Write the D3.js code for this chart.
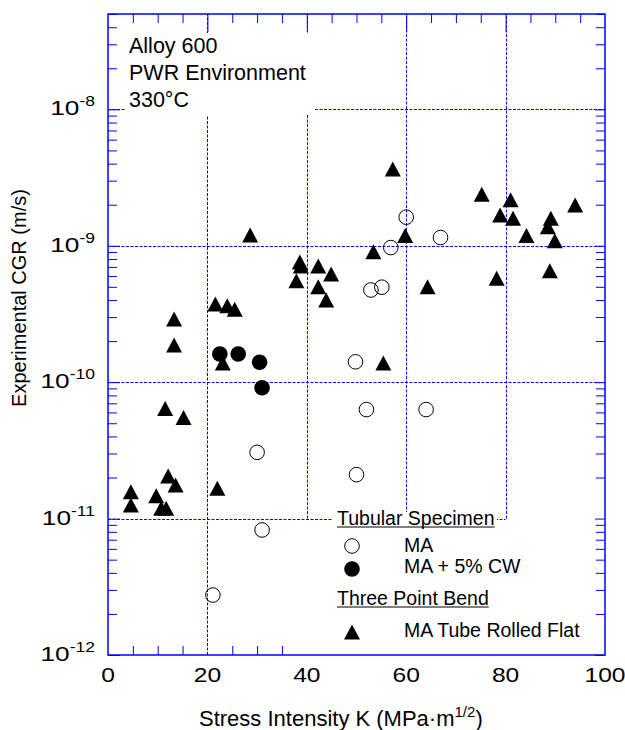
<!DOCTYPE html>
<html>
<head>
<meta charset="utf-8">
<script src="https://cdn.jsdelivr.net/npm/d3@7"></script>
<style>
  body { margin: 0; background: #fff; }
  svg { display: block; }
  text { font-family: "Liberation Sans", Arial, Helvetica, sans-serif; fill: #000; }
</style>
</head>
<body>
<svg id="chart" width="625" height="730"></svg>
<script>
// Alloy 600 crack growth rates in PWR water at 330 °C.
// Each point: [stress intensity K (MPa·m^1/2), crack growth rate (m/s)]
const tubularMA = [
  [21.1, 2.75e-12], [31.0, 8.25e-12], [30.0, 3.06e-11], [50.0, 2.1e-11],
  [49.8, 1.41e-10], [52.0, 6.3e-11], [64.0, 6.3e-11], [52.9, 4.74e-10],
  [55.1, 4.97e-10], [56.9, 9.7e-10], [60.0, 1.62e-9], [66.9, 1.15e-9]
];
const tubularMACW = [
  [22.5, 1.61e-10], [26.2, 1.61e-10], [30.5, 1.40e-10], [31.0, 9.1e-11]
];
const bendRolledFlat = [
  [4.6, 1.57e-11], [4.6, 1.26e-11], [9.7, 1.47e-11], [10.7, 1.19e-11],
  [11.7, 1.19e-11], [12.1, 2.05e-11], [13.6, 1.76e-11], [11.5, 6.4e-11],
  [15.2, 5.5e-11], [13.3, 2.9e-10], [13.3, 1.87e-10], [22.0, 1.67e-11],
  [21.6, 3.74e-10], [24.0, 3.64e-10], [25.5, 3.42e-10], [23.1, 1.38e-10],
  [28.6, 1.2e-9], [38.6, 7.6e-10], [38.8, 7.1e-10], [37.9, 5.55e-10],
  [42.3, 7.1e-10], [44.9, 6.2e-10], [42.3, 5.0e-10], [43.9, 4.0e-10],
  [53.4, 9.05e-10], [57.3, 3.66e-9], [59.8, 1.19e-9], [55.4, 1.38e-10],
  [64.3, 5.0e-10], [75.2, 2.39e-9], [81.0, 2.17e-9], [78.9, 1.68e-9],
  [81.5, 1.59e-9], [84.2, 1.19e-9], [94.0, 1.99e-9], [89.1, 1.59e-9],
  [88.5, 1.38e-9], [89.9, 1.09e-9], [78.2, 5.78e-10], [88.9, 6.56e-10]
];
const kTickLabels = [0, 20, 40, 60, 80, 100];
const cgrDecadeExponents = [-12, -11, -10, -9, -8];
const annotationLines = ["Alloy 600", "PWR Environment", "330°C"];
const legendHeadings = ["Tubular Specimen", "Three Point Bend"];
const legendEntries = ["MA", "MA + 5% CW", "MA Tube Rolled Flat"];

const svg = d3.select("#chart");
const L = 108, R = 605, T = 14, B = 655;
const BLUE = "#0000ff";

const x = d3.scaleLinear().domain([0, 100]).range([L, R]);
const y = d3.scaleLog().domain([1e-12, 5e-8]).range([B, T]);

// ---- dashed grid ----
const grid = svg.append("g")
  .attr("fill", "none")
  .attr("stroke", BLUE)
  .attr("stroke-width", 1)
  .attr("stroke-dasharray", "3,1.5");
const hGrid = [[1e-8, 100], [1e-9, 100], [1e-10, 100], [1e-11, 80]];
hGrid.forEach(([v, kEnd]) => {
  grid.append("line")
    .attr("x1", x(0)).attr("x2", x(kEnd))
    .attr("y1", Math.round(y(v)) + 0.5).attr("y2", Math.round(y(v)) + 0.5);
});
const vGrid = [[20, 1e-12], [40, 1e-11], [60, 1e-11], [80, 1e-11]];
vGrid.forEach(([k, vLow]) => {
  grid.append("line")
    .attr("x1", Math.round(x(k)) + 0.5).attr("x2", Math.round(x(k)) + 0.5)
    .attr("y1", y(vLow)).attr("y2", y(5e-8));
});

// ---- white panels behind the annotation and the legend ----
svg.append("rect").attr("x", 125).attr("y", 33).attr("width", 189).attr("height", 82).attr("fill", "#fff");
svg.append("rect").attr("x", 333).attr("y", 521).attr("width", 262).attr("height", B - 522).attr("fill", "#fff");
svg.append("rect").attr("x", 333).attr("y", 512).attr("width", 164).attr("height", 10).attr("fill", "#fff");

// ---- tick marks (inward, on all four sides) ----
const yMinor = y.ticks().filter(v => Math.abs(Math.log10(v) - Math.round(Math.log10(v))) > 1e-6);
const yMajor = cgrDecadeExponents.map(e => Math.pow(10, e));
const kMinorTop = d3.range(5, 100, 5).filter(k => k % 20 !== 0);
const kMinorBottom = kMinorTop.filter(k => k < 40);
const kMajor = [20, 40, 60, 80];

function tickAxis(axis, tx, ty) {
  const g = svg.append("g").attr("transform", `translate(${tx},${ty})`).call(axis);
  g.select(".domain").remove();
  g.selectAll("text").remove();
  g.selectAll("line").attr("stroke", BLUE).attr("stroke-width", 1);
  return g;
}
tickAxis(d3.axisLeft(y).tickValues(yMinor).tickSizeInner(-9).tickSizeOuter(0), L, 0);
tickAxis(d3.axisRight(y).tickValues(yMinor).tickSizeInner(-9).tickSizeOuter(0), R, 0);
tickAxis(d3.axisRight(y).tickValues(yMajor).tickSizeInner(-10).tickSizeOuter(0), R, 0);
tickAxis(d3.axisLeft(y).tickValues(yMajor).tickSizeInner(-12).tickSizeOuter(0), L, 0);
tickAxis(d3.axisBottom(x).tickValues(kMinorBottom).tickSizeInner(-9).tickSizeOuter(0), 0, B);
tickAxis(d3.axisTop(x).tickValues(kMinorTop).tickSizeInner(-9).tickSizeOuter(0), 0, T);
tickAxis(d3.axisTop(x).tickValues(kMajor).tickSizeInner(-18).tickSizeOuter(0), 0, T);

// ---- plot frame ----
svg.append("rect")
  .attr("x", L).attr("y", T).attr("width", R - L).attr("height", B - T)
  .attr("fill", "none").attr("stroke", BLUE).attr("stroke-width", 1.5);

// ---- markers ----
const tri = "M0,-7.5L8,7.5L-8,7.5Z";
const marks = svg.append("g");
marks.selectAll("circle.ma").data(tubularMA).join("circle")
  .attr("class", "ma")
  .attr("cx", d => x(d[0])).attr("cy", d => y(d[1])).attr("r", 7.3)
  .attr("fill", "none").attr("stroke", "#000").attr("stroke-width", 1);
marks.selectAll("circle.cw").data(tubularMACW).join("circle")
  .attr("class", "cw")
  .attr("cx", d => x(d[0])).attr("cy", d => y(d[1])).attr("r", 7.8)
  .attr("fill", "#000");
marks.selectAll("path.flat").data(bendRolledFlat).join("path")
  .attr("class", "flat")
  .attr("d", tri)
  .attr("transform", d => `translate(${x(d[0])},${y(d[1])})`)
  .attr("fill", "#000");

// ---- tick labels (wide numerals) ----
const labels = svg.append("g");
kTickLabels.forEach(k => {
  labels.append("text")
    .attr("transform", `translate(${x(k)},682) scale(1.2,1)`)
    .attr("text-anchor", "middle")
    .style("font-size", "20.5px")
    .text(k);
});
cgrDecadeExponents.forEach(e => {
  const t = labels.append("text")
    .attr("transform", `translate(95,${y(Math.pow(10, e)) + 6}) scale(1.25,1)`)
    .attr("text-anchor", "end")
    .style("font-size", "21px");
  t.append("tspan").text("10");
  t.append("tspan").attr("dy", -9).style("font-size", "14px").text("-" + Math.abs(e));
});

// ---- axis titles ----
const xt = svg.append("text")
  .attr("x", 199).attr("y", 726)
  .style("font-size", "22px");
xt.append("tspan").text("Stress Intensity K (MPa·m");
xt.append("tspan").attr("dy", -9).style("font-size", "15px").text("1/2");
xt.append("tspan").attr("dy", 9).text(")");

svg.append("text")
  .attr("transform", "translate(26,298) rotate(-90)")
  .attr("text-anchor", "middle")
  .style("font-size", "20px")
  .text("Experimental CGR (m/s)");

// ---- annotation ----
annotationLines.forEach((s, i) => {
  svg.append("text").attr("x", 129).attr("y", 53 + i * 27)
    .style("font-size", "21.5px").text(s);
});

// ---- legend ----
const lg = svg.append("g");
function heading(text, yb) {
  const t = lg.append("text").attr("x", 337).attr("y", yb).style("font-size", "19.5px").text(text);
  const w = t.node().getComputedTextLength();
  lg.append("line").attr("x1", 337).attr("x2", 337 + w)
    .attr("y1", yb + 2).attr("y2", yb + 2)
    .attr("stroke", "#000").attr("stroke-width", 1.2);
}
heading(legendHeadings[0], 525);
heading(legendHeadings[1], 605);
const entryY = [552, 573, 637];
const symY = [546, 569, 632];
legendEntries.forEach((s, i) => {
  lg.append("text").attr("x", 404).attr("y", entryY[i]).style("font-size", "19.5px").text(s);
});
lg.append("circle").attr("cx", 352).attr("cy", symY[0]).attr("r", 7.3)
  .attr("fill", "none").attr("stroke", "#000").attr("stroke-width", 1);
lg.append("circle").attr("cx", 352).attr("cy", symY[1]).attr("r", 7.8).attr("fill", "#000");
lg.append("path").attr("d", tri).attr("transform", `translate(352,${symY[2]})`).attr("fill", "#000");
</script>
</body>
</html>
